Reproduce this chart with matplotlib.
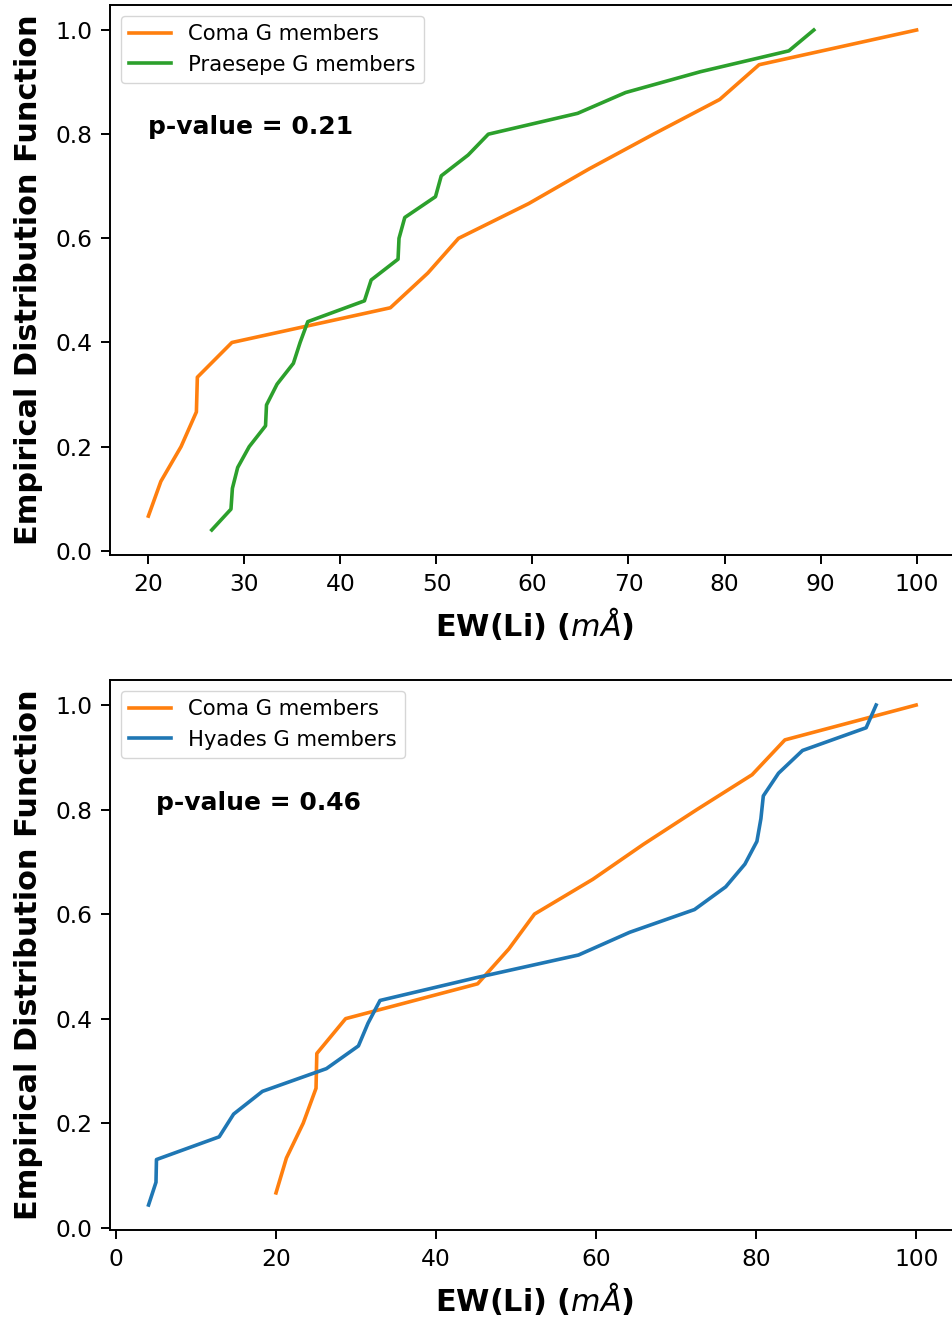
import matplotlib
matplotlib.use('Agg')
import matplotlib.pyplot as plt

# EW(Li) values
coma = [20.0, 21.3, 23.4, 25.0, 25.1, 28.7, 45.2, 49.1, 52.3, 59.6, 65.9, 72.6, 79.5, 83.6, 100.0]
praesepe = [26.6, 28.6, 28.75, 29.3, 30.5, 32.2, 32.3, 33.4, 35.1, 35.8, 36.6, 42.5, 43.2,
            46.0, 46.1, 46.7, 49.9, 50.5, 53.3, 55.4, 64.7, 69.7, 77.5, 86.7, 89.3]
hyades = [4.07, 5.0, 5.06, 12.9, 14.7, 18.3, 26.3, 30.3, 31.5, 33.0, 45.0, 57.8, 64.2,
          72.3, 76.2, 78.6, 80.1, 80.6, 80.9, 82.8, 85.8, 93.75, 95.0]
pvals = ['0.21', '0.46']


def ecdf(vals):
    n = len(vals)
    return [(i + 1) / n for i in range(n)]


fig = plt.figure(figsize=(9.53, 13.22), dpi=100)
ax1 = fig.add_axes([0.1154, 0.5802, 0.890, 0.416])
ax2 = fig.add_axes([0.1154, 0.0696, 0.890, 0.416])

lw = 2.6
ax1.plot(coma, ecdf(coma), color='tab:orange', lw=lw, label='Coma G members')
ax1.plot(praesepe, ecdf(praesepe), color='tab:green', lw=lw, label='Praesepe G members')
ax1.text(20, 0.8, 'p-value = ' + pvals[0], fontsize=18, fontweight='bold')

ax2.plot(coma, ecdf(coma), color='tab:orange', lw=lw, label='Coma G members')
ax2.plot(hyades, ecdf(hyades), color='tab:blue', lw=lw, label='Hyades G members')
ax2.text(5, 0.8, 'p-value = ' + pvals[1], fontsize=18, fontweight='bold')

ax1.set_xlim(16, 104.33)
ax2.set_xlim(-0.75, 105.25)
ax2.set_xticks([0, 20, 40, 60, 80, 100])

for ax in (ax1, ax2):
    ax.set_xlabel(r'EW(Li) ($m\AA$)', fontsize=21.8, fontweight='bold', labelpad=7)
    ax.set_ylabel('Empirical Distribution Function', fontsize=21.9, fontweight='bold', labelpad=9)
    ax.tick_params(labelsize=16.8, width=1.4, length=6.3, pad=6.5)
    ax.legend(loc='upper left', fontsize=15.2)
    for s in ax.spines.values():
        s.set_linewidth(1.4)

fig.savefig('out.png', dpi=100)
